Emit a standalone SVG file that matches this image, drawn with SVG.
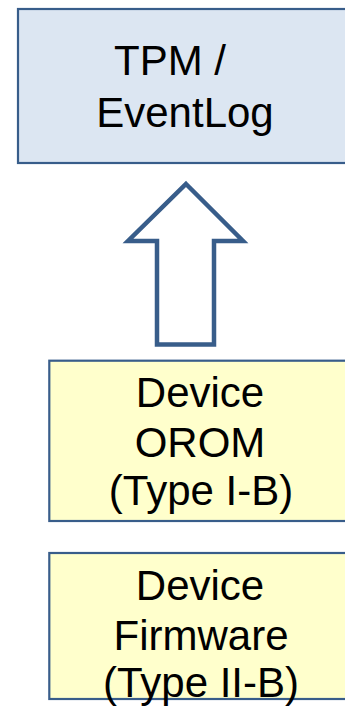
<svg xmlns="http://www.w3.org/2000/svg" width="345" height="709" viewBox="0 0 345 709">
<style>
.box{stroke:#385d8a;stroke-width:2.2}
.blue{fill:#dce6f2}
.yel{fill:#ffffcc}
.t{font-family:"Liberation Sans",Arial,sans-serif;font-size:42px;fill:#000;text-anchor:middle}
.arrow{fill:#ffffff;stroke:#385d8a;stroke-width:4.5;stroke-linejoin:miter}
</style>
<rect width="345" height="709" fill="#ffffff"/>
<g id="tpm">
<rect class="box blue" x="18" y="9" width="340" height="154"/>
<text class="t" x="170" y="75">TPM /</text>
<text class="t" x="185" y="127">EventLog</text>
</g>
<g id="connectors">
<path class="arrow" d="M186 184 L243 241 L214 241 L214 344.5 L157 344.5 L157 241 L128 241 Z"/>
</g>
<g id="orom">
<rect class="box yel" x="49.3" y="360.7" width="310" height="160.3"/>
<text class="t" x="200" y="407">Device</text>
<text class="t" x="200" y="457">OROM</text>
<text class="t" x="201" y="505">(Type I-B)</text>
</g>
<g id="firmware">
<rect class="box yel" x="49.3" y="553" width="310" height="146"/>
<text class="t" x="200" y="600">Device</text>
<text class="t" x="201" y="650">Firmware</text>
<text class="t" x="201" y="697">(Type II-B)</text>
</g>
</svg>
